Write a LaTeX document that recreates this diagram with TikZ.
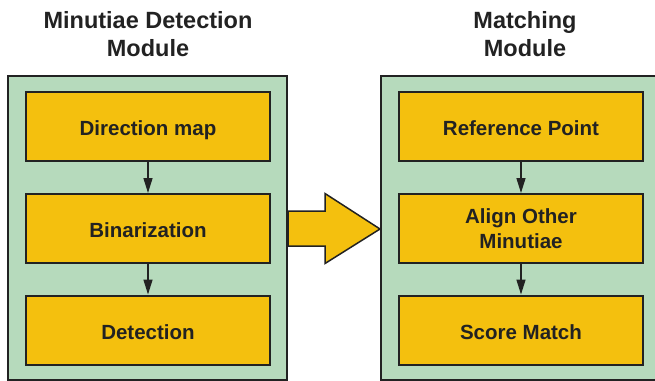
\documentclass[tikz,border=0pt]{standalone}
\usepackage{fontspec}
\setmainfont{Liberation Sans}
\usetikzlibrary{arrows.meta,calc}
\definecolor{panelgreen}{RGB}{182,218,188}
\definecolor{stepyellow}{RGB}{244,192,14}
\definecolor{ink}{RGB}{34,34,34}
\begin{document}
\begin{tikzpicture}[x=0.5pt,y=-0.5pt,
  module/.style={draw=ink, line width=1pt, fill=panelgreen, inner sep=0pt,
    minimum width=139.5pt, minimum height=152pt},
  stepbox/.style={draw=ink, line width=1pt, fill=stepyellow, inner sep=0pt,
    minimum width=122pt, minimum height=34.5pt, text=ink, align=center,
    font=\bfseries\fontsize{10.25}{12.5}\selectfont},
  oneline/.style={text height=9pt, text depth=0pt},
  title/.style={text=ink, align=center,
    font=\bfseries\fontsize{11.75}{14}\selectfont},
  flow/.style={draw=ink, line width=0.75pt, -{Triangle[length=7.5pt,width=4.5pt]}},
  bigarrow/.style={draw=ink, line width=0.75pt, fill=stepyellow, line join=miter}]
\useasboundingbox (0,0) rectangle (655,381);
\clip (0,0) rectangle (655,381);

% module titles
\node[title] (tl) at (148,34) {Minutiae Detection\\Module};
\node[title] (tr) at (525,34) {Matching\\Module};

% module panels
\node[module] (L) at (147.5,228) {};
\node[module] (R) at (520.5,228) {};

% minutiae detection steps
\node[stepbox, oneline] (d1) at (148,126.5) {Direction map};
\node[stepbox, oneline] (d2) at (148,228.5) {Binarization};
\node[stepbox, oneline] (d3) at (148,330) {Detection};

% matching steps
\node[stepbox, oneline] (m1) at (521,126.5) {Reference Point};
\node[stepbox] (m2) at (521,228.5) {Align Other\\Minutiae};
\node[stepbox, oneline] (m3) at (521,330) {Score Match};

% flow inside each module
\draw[flow] (d1.south) -- (d2.north);
\draw[flow] (d2.south) -- (d3.north);
\draw[flow] (m1.south) -- (m2.north);
\draw[flow] (m2.south) -- (m3.north);

% block arrow between the modules
\draw[bigarrow] ($(L.east)+(0,-17)$) -- ($(L.east)+(37,-17)$)
  -- ($(L.east)+(37,-34.5)$) -- ($(R.west)+(0,1)$)
  -- ($(L.east)+(37,35.5)$) -- ($(L.east)+(37,18)$)
  -- ($(L.east)+(0,18)$) -- cycle;
\end{tikzpicture}
\end{document}
